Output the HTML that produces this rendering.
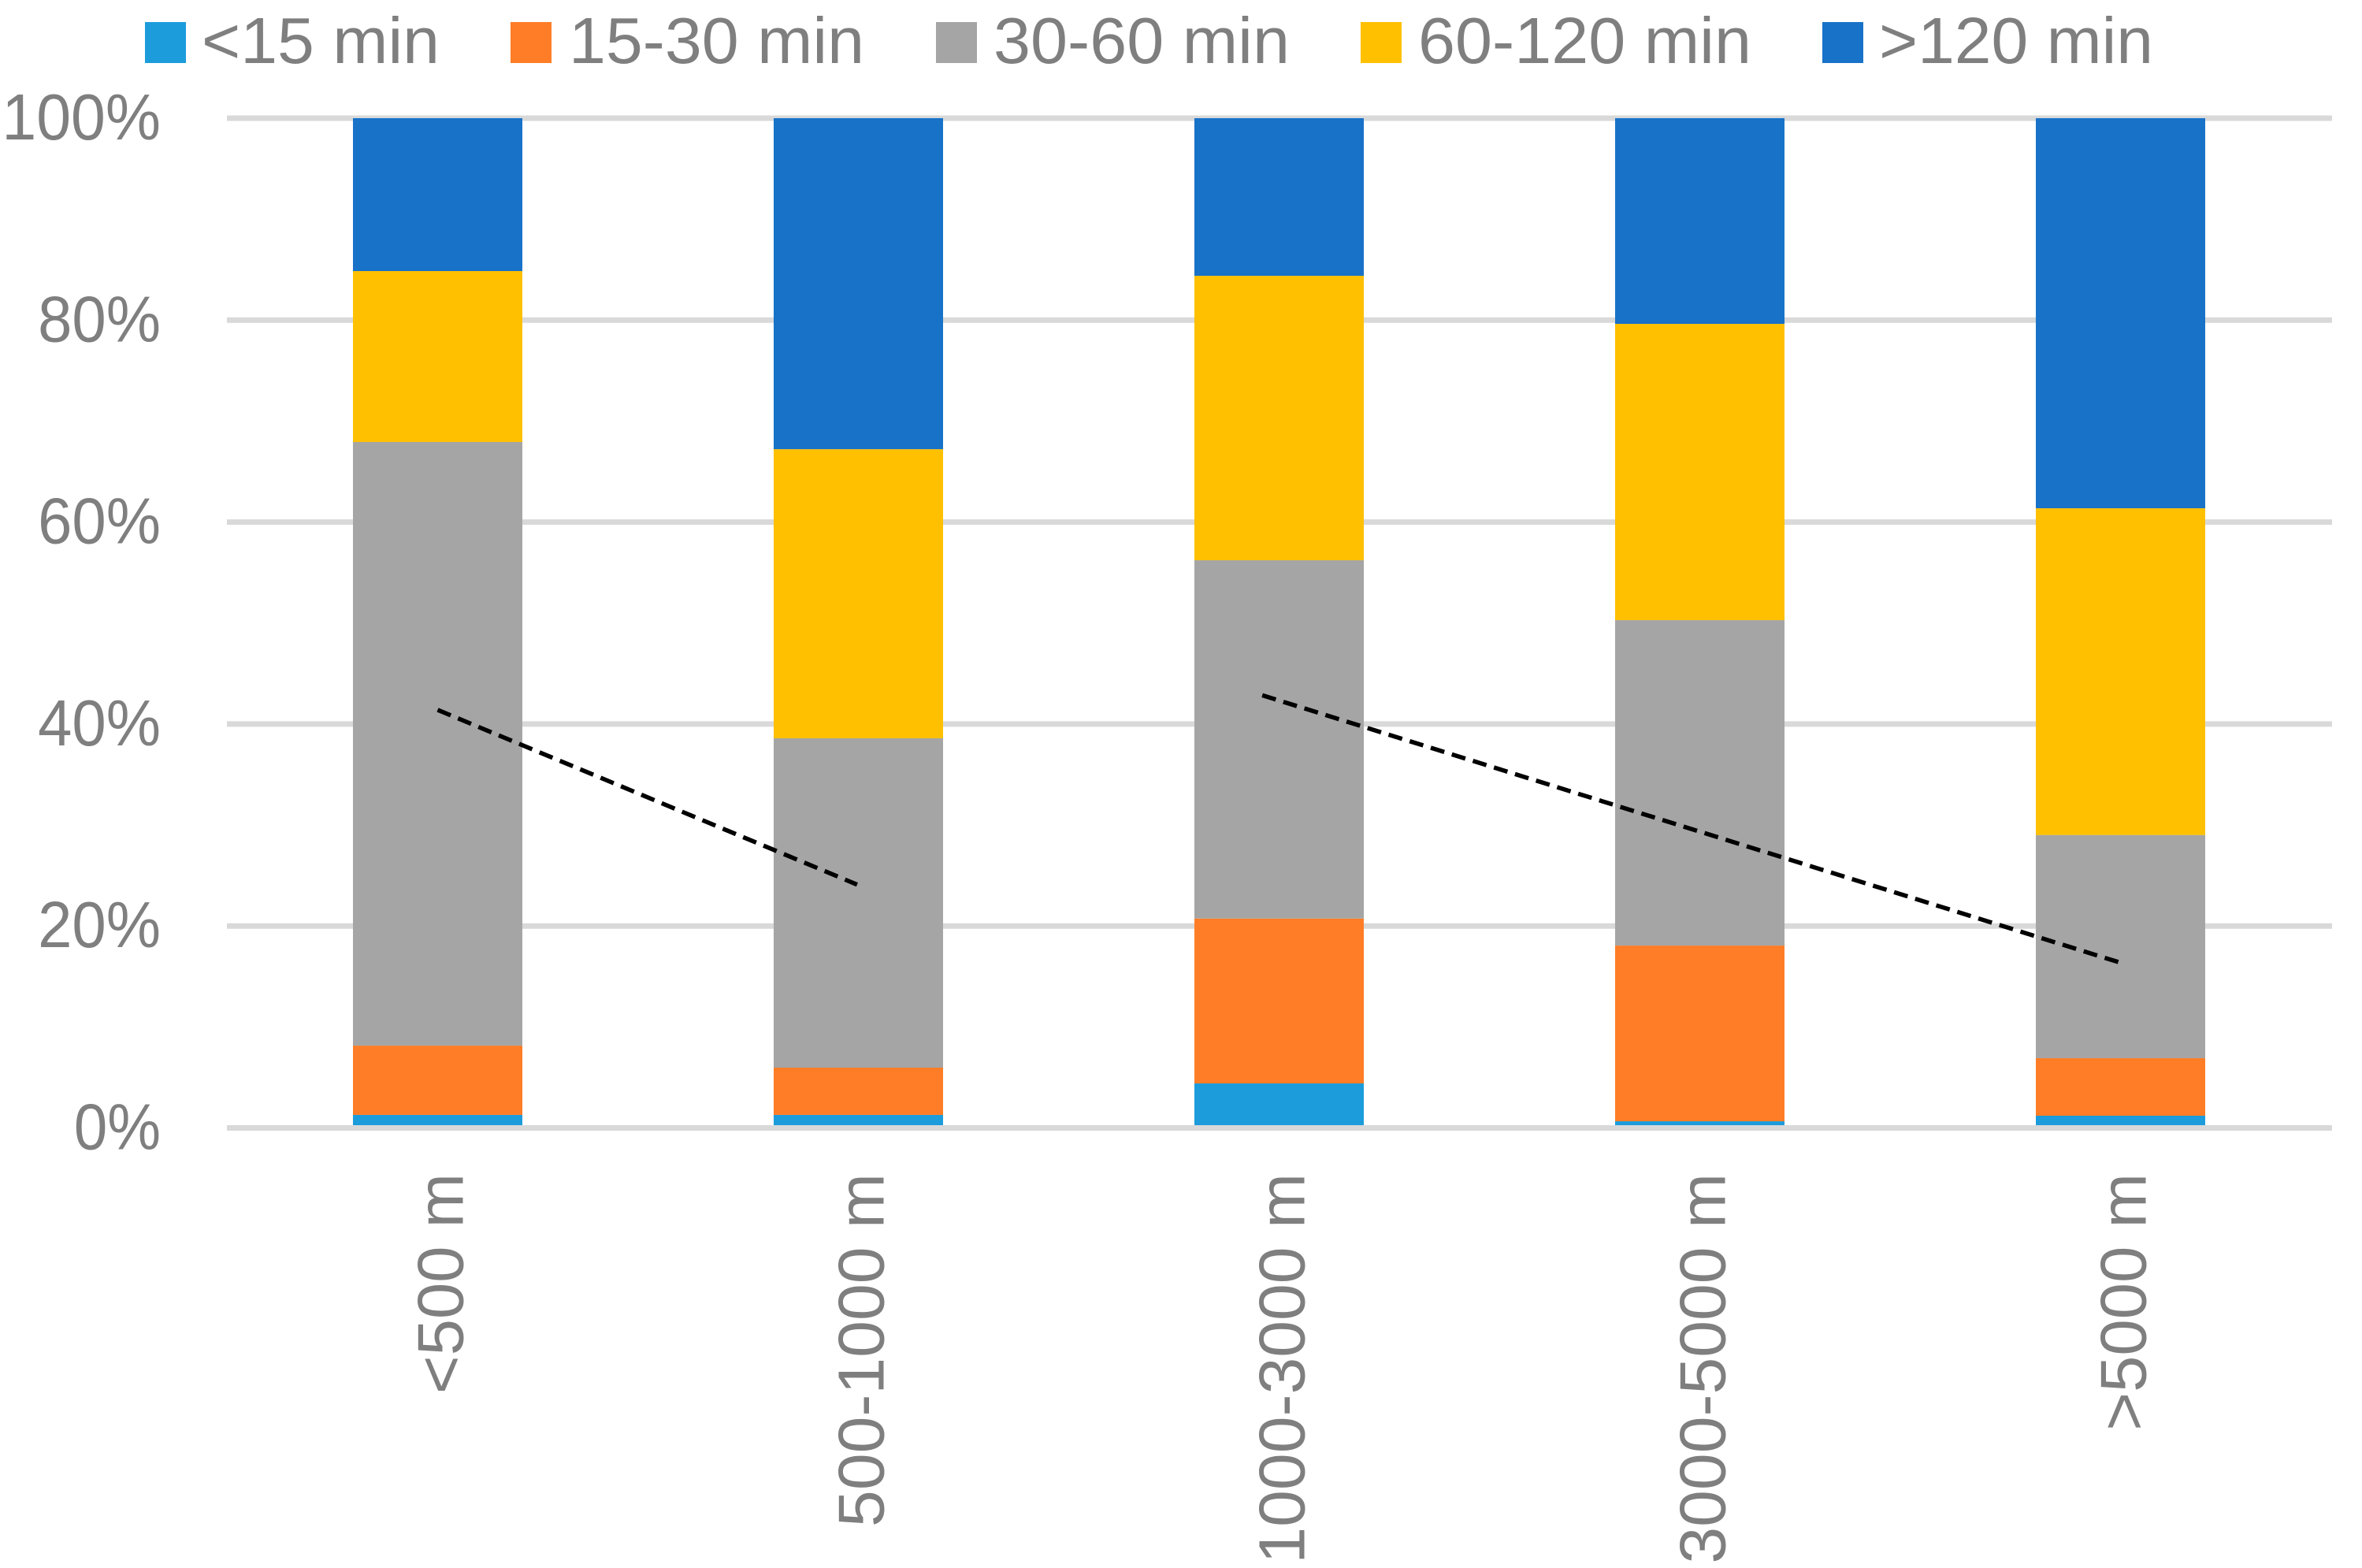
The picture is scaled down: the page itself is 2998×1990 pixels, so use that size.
<!DOCTYPE html>
<html lang="en">
<head>
<meta charset="utf-8">
<title>Stacked bar chart</title>
<style>
html,body{margin:0;padding:0;background:#fff;width:2998px;height:1990px;overflow:hidden}
svg{display:block}
text{font-family:"Liberation Sans",sans-serif;font-size:83px;fill:#7f7f7f}
</style>
</head>
<body>
<svg id="chart" xmlns="http://www.w3.org/2000/svg" width="2998" height="1990" viewBox="0 0 2998 1990">
  <g id="legend">
    <g>
      <rect x="184" y="28" width="52" height="52" fill="#1c9cdb"/>
      <text x="256" y="80" textLength="302" lengthAdjust="spacingAndGlyphs">&lt;15 min</text>
    </g>
    <g>
      <rect x="648" y="28" width="52" height="52" fill="#ff7d26"/>
      <text x="722" y="80" textLength="375" lengthAdjust="spacingAndGlyphs">15-30 min</text>
    </g>
    <g>
      <rect x="1188" y="28" width="52" height="52" fill="#a5a5a5"/>
      <text x="1261" y="80" textLength="376" lengthAdjust="spacingAndGlyphs">30-60 min</text>
    </g>
    <g>
      <rect x="1727" y="28" width="52" height="52" fill="#ffc000"/>
      <text x="1800" y="80" textLength="423" lengthAdjust="spacingAndGlyphs">60-120 min</text>
    </g>
    <g>
      <rect x="2313" y="28" width="52" height="52" fill="#1872c8"/>
      <text x="2385" y="80" textLength="348" lengthAdjust="spacingAndGlyphs">&gt;120 min</text>
    </g>
  </g>
</svg>
<script>
// Chart data (percent of each distance class)
var categories = ["<500 m", "500-1000 m", "1000-3000 m", "3000-5000 m", ">5000 m"];
var seriesNames = ["under-15-min", "15-30-min", "30-60-min", "60-120-min", "over-120-min"];
var under15 = [1.29, 1.29, 4.41, 0.66, 1.21];
var from15to30 = [6.86, 4.68, 16.33, 17.40, 5.70];
var from30to60 = [59.78, 32.62, 35.48, 32.23, 22.10];
var from60to120 = [16.93, 28.63, 28.17, 29.34, 32.36];
var over120 = [15.14, 32.78, 15.61, 20.37, 38.63];
var yTicks = [0, 20, 40, 60, 80, 100];
// Dashed trend annotations: category index and percent at each end
var trendCats = [[0, 0.997], [1.96, 3.997]];
var trendVals = [[41.4, 24.1], [42.85, 16.4]];

var seriesValues = [under15, from15to30, from30to60, from60to120, over120];
var seriesColors = ["#1c9cdb", "#ff7d26", "#a5a5a5", "#ffc000", "#1872c8"];

var NS = "http://www.w3.org/2000/svg";
var svg = document.getElementById("chart");
var plotLeft = 288, plotRight = 2960, y0 = 1431.5, y100 = 150;
var barOrigin = 288.5, barStep = 534;
var barWidth = 215, gridWidth = 7;

function xScale(i) { return barOrigin + barStep * (i + 0.5); }
function yScale(v) { return y0 + (y100 - y0) * v / 100; }

var charWidths = {"%": 0.715, "-": 0.306, " ": 0.226, "m": 0.799, "<": 0.498, ">": 0.498};
function labelWidth(s) {
  var w = 0;
  for (var i = 0; i < s.length; i++) {
    var c = s.charAt(i);
    w += (c in charWidths) ? charWidths[c] : 0.507;
  }
  return w * 92;
}
function el(tag) { return document.createElementNS(NS, tag); }

// Gridlines and tick labels
yTicks.forEach(function (t) {
  if (t !== 0) {
    var line = el("line");
    
    
    line.setAttribute("x1", plotLeft);
    line.setAttribute("x2", plotRight);
    line.setAttribute("y1", yScale(t));
    line.setAttribute("y2", yScale(t));
    line.setAttribute("stroke", "#d9d9d9");
    line.setAttribute("stroke-width", gridWidth);
    svg.appendChild(line);
  }
  var label = el("text");
  
  
  label.setAttribute("x", 204);
  label.setAttribute("y", yScale(t) + 27);
  label.setAttribute("text-anchor", "end");
  label.setAttribute("textLength", labelWidth(t + "%") * 0.98);
  label.setAttribute("lengthAdjust", "spacingAndGlyphs");
  label.textContent = t + "%";
  svg.appendChild(label);
});

// Stacked bars
categories.forEach(function (cat, i) {
  var cum = 0;
  seriesValues.forEach(function (vals, s) {
    var top = yScale(cum + vals[i]);
    var bottom = yScale(cum);
    var r = el("rect");
    
    
    r.setAttribute("x", xScale(i) - barWidth / 2);
    r.setAttribute("y", top);
    r.setAttribute("width", barWidth);
    r.setAttribute("height", bottom - top);
    r.setAttribute("fill", seriesColors[s]);
    svg.appendChild(r);
    cum += vals[i];
  });
});

// Baseline axis above the bars
var axis = el("line");


axis.setAttribute("x1", plotLeft);
axis.setAttribute("x2", plotRight);
axis.setAttribute("y1", yScale(0));
axis.setAttribute("y2", yScale(0));
axis.setAttribute("stroke", "#d9d9d9");
axis.setAttribute("stroke-width", gridWidth);
svg.appendChild(axis);

// Category labels
categories.forEach(function (cat, i) {
  var t = el("text");
  var lx = xScale(i) + 32, ly = 1489;
  
  
  t.setAttribute("x", lx);
  t.setAttribute("y", ly);
  t.setAttribute("text-anchor", "end");
  t.setAttribute("textLength", labelWidth(cat));
  t.setAttribute("lengthAdjust", "spacingAndGlyphs");
  t.setAttribute("transform", "rotate(-90 " + lx + " " + ly + ")");
  t.textContent = cat;
  svg.appendChild(t);
});

// Dashed trend lines
trendCats.forEach(function (c, k) {
  var l = el("line");
  
  
  l.setAttribute("x1", xScale(c[0]));
  l.setAttribute("x2", xScale(c[1]));
  l.setAttribute("y1", yScale(trendVals[k][0]));
  l.setAttribute("y2", yScale(trendVals[k][1]));
  l.setAttribute("stroke", "#000");
  l.setAttribute("stroke-width", 5.5);
  l.setAttribute("stroke-dasharray", "18 10");
  svg.appendChild(l);
});
</script>
</body>
</html>
